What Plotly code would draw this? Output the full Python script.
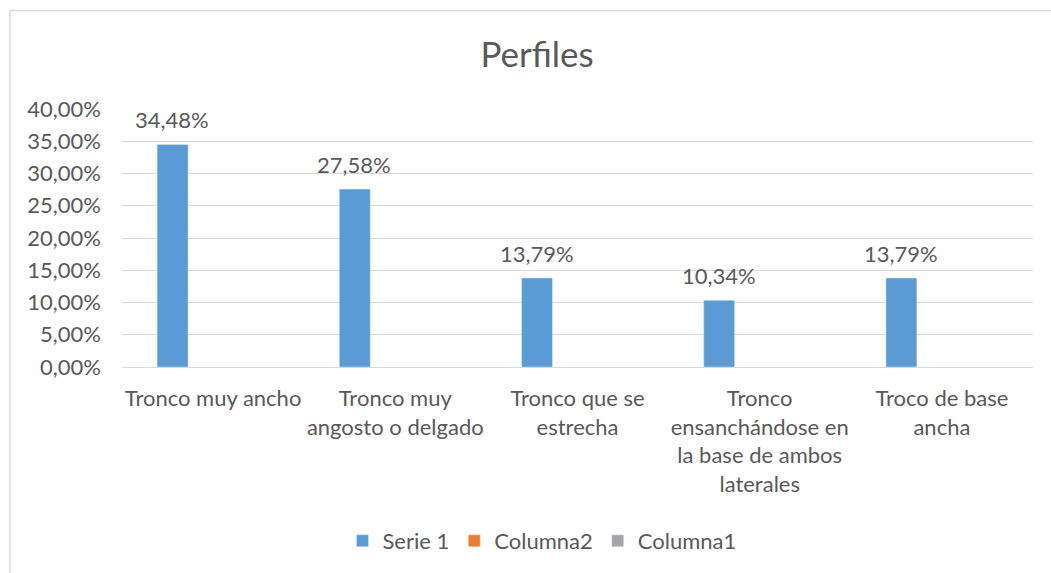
import plotly.graph_objects as go

categorias = [
    "Tronco muy ancho",
    "Tronco muy<br>angosto o delgado",
    "Tronco que se<br>estrecha",
    "Tronco<br>ensanchándose en<br>la base de ambos<br>laterales",
    "Troco de base<br>ancha",
]
serie1 = [0.3448, 0.2758, 0.1379, 0.1034, 0.1379]
serie1_txt = ["34,48%", "27,58%", "13,79%", "10,34%", "13,79%"]
columna2 = [None, None, None, None, None]
columna1 = [None, None, None, None, None]
tick_vals = [0, 0.05, 0.10, 0.15, 0.20, 0.25, 0.30, 0.35, 0.40]
tick_txt = ["0,00%", "5,00%", "10,00%", "15,00%", "20,00%",
            "25,00%", "30,00%", "35,00%", "40,00%"]

gris = "#595959"
fuente = "Lato, 'Open Sans', sans-serif"
tam = 22

fig = go.Figure()
fig.add_trace(go.Bar(name="Serie 1", x=categorias, y=serie1,
                     marker=dict(color="#5B9BD5")))
fig.add_trace(go.Bar(name="Columna2", x=categorias, y=columna2,
                     marker=dict(color="#ED7D31")))
fig.add_trace(go.Bar(name="Columna1", x=categorias, y=columna1,
                     marker=dict(color="#A5A5A5")))

# etiquetas de datos encima de las barras de Serie 1
for cat, val, txt in zip(categorias, serie1, serie1_txt):
    fig.add_annotation(x=cat, y=val, text=txt, showarrow=False,
                       xshift=-41, yshift=25, yanchor="middle",
                       font=dict(size=tam, color=gris, family=fuente))

fig.update_layout(
    width=1051, height=573,
    autosize=False,
    paper_bgcolor="white", plot_bgcolor="white",
    margin=dict(l=122, r=18, t=109, b=205),
    barmode="group", bargap=0.333, bargroupgap=0.235,
    font=dict(family=fuente, color=gris, size=tam),
    title=dict(text="Perfiles", x=0.511, xanchor="center",
               y=0.904, yref="container", yanchor="middle",
               font=dict(size=35, color=gris, family=fuente)),
    legend=dict(orientation="h", x=0.461, xanchor="center",
                y=-0.668, yanchor="middle",
                font=dict(size=tam, color=gris, family=fuente),
                itemwidth=30, tracegroupgap=0),
    showlegend=True,
)
fig.update_xaxes(showline=False, ticks="", ticklabelstandoff=16,
                 tickfont=dict(size=tam, color=gris))
fig.update_yaxes(range=[0, 0.40], tickvals=tick_vals, ticktext=tick_txt,
                 showgrid=True, gridcolor="#D9D9D9", gridwidth=1,
                 zeroline=True, zerolinecolor="#D9D9D9", zerolinewidth=1,
                 showline=False, ticks="", ticklabelstandoff=20,
                 tickfont=dict(size=tam, color=gris))

# marco del grafico
fig.add_shape(type="line", xref="paper", yref="paper",
              x0=-0.123, x1=1.1, y0=1.382, y1=1.382,
              line=dict(color="#D9D9D9", width=1.5))
fig.add_shape(type="line", xref="paper", yref="paper",
              x0=-0.123, x1=-0.123, y0=1.382, y1=-0.8,
              line=dict(color="#D9D9D9", width=1.5))

fig.write_html("out.html", config={"displayModeBar": False},
               post_script="document.body.style.margin='0';")
